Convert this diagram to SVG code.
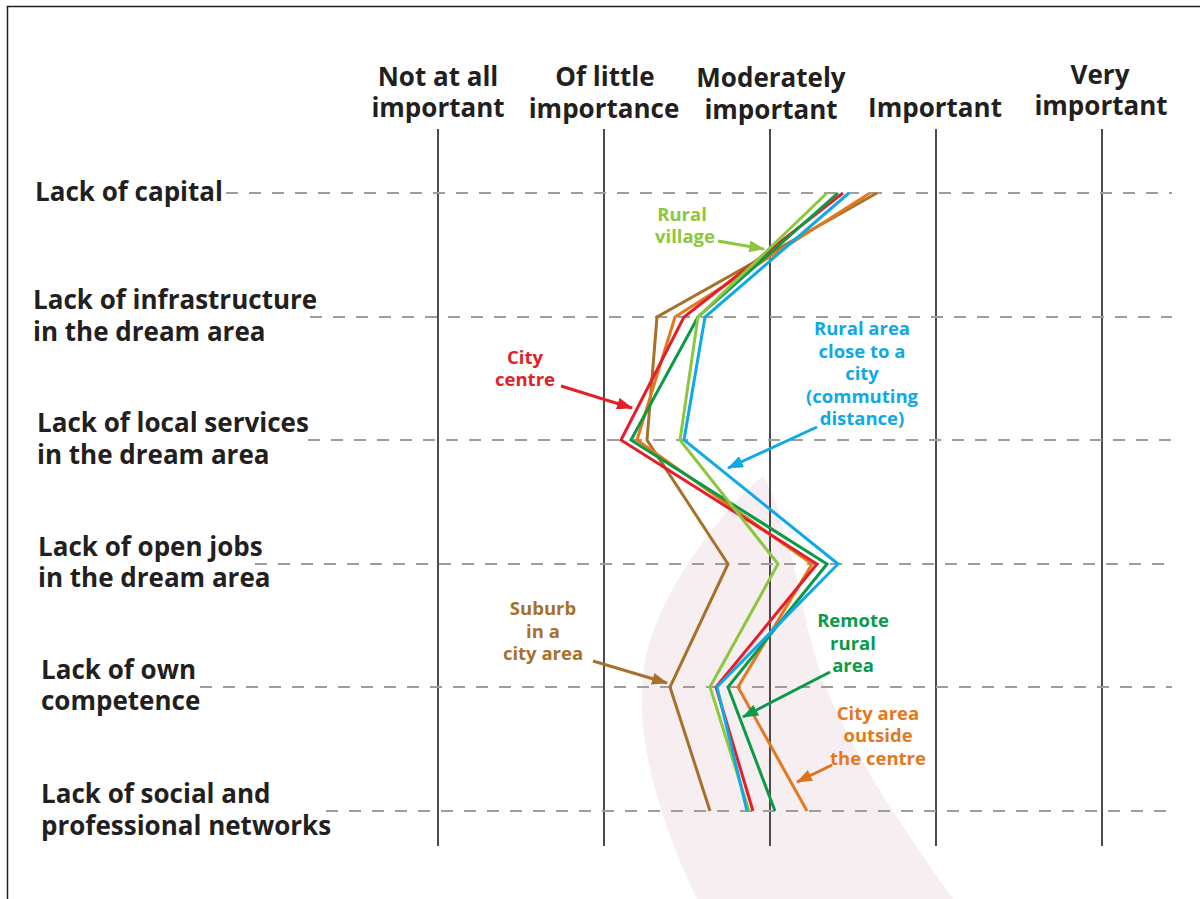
<svg xmlns="http://www.w3.org/2000/svg" width="1200" height="899" viewBox="0 0 1200 899">
<style>
.hdr{font-family:"Open Sans","Noto Sans","Liberation Sans",sans-serif;font-weight:700;font-size:26px;fill:#231F20;text-anchor:middle}
.row{font-family:"Open Sans","Noto Sans","Liberation Sans",sans-serif;font-weight:700;font-size:26px;fill:#231F20}
.ann{font-family:"Open Sans","Noto Sans","Liberation Sans",sans-serif;font-weight:700;font-size:18.5px;text-anchor:middle}
.vl{stroke:#231F20;stroke-width:1.6}
.dl{stroke:#9D9D9D;stroke-width:2;stroke-dasharray:12 11}
.s{fill:none;stroke-width:3;stroke-linejoin:miter}
.arr{fill:none;stroke-width:3}
</style>
<defs>
<marker id="mLg" markerWidth="16" markerHeight="12" refX="15" refY="6" orient="auto" markerUnits="userSpaceOnUse"><path d="M0,0 L16,6 L0,12 Z" fill="#8DC63F"/></marker>
<marker id="mRd" markerWidth="16" markerHeight="12" refX="15" refY="6" orient="auto" markerUnits="userSpaceOnUse"><path d="M0,0 L16,6 L0,12 Z" fill="#E3202A"/></marker>
<marker id="mBl" markerWidth="16" markerHeight="12" refX="15" refY="6" orient="auto" markerUnits="userSpaceOnUse"><path d="M0,0 L16,6 L0,12 Z" fill="#0FA9E6"/></marker>
<marker id="mBr" markerWidth="16" markerHeight="12" refX="15" refY="6" orient="auto" markerUnits="userSpaceOnUse"><path d="M0,0 L16,6 L0,12 Z" fill="#A7712B"/></marker>
<marker id="mDg" markerWidth="16" markerHeight="12" refX="15" refY="6" orient="auto" markerUnits="userSpaceOnUse"><path d="M0,0 L16,6 L0,12 Z" fill="#0A9A48"/></marker>
<marker id="mOr" markerWidth="16" markerHeight="12" refX="15" refY="6" orient="auto" markerUnits="userSpaceOnUse"><path d="M0,0 L16,6 L0,12 Z" fill="#D9731E"/></marker>
</defs>
<rect x="0" y="0" width="1200" height="899" fill="#FFFFFF"/>
<rect x="7.5" y="6.5" width="1210" height="910" fill="none" stroke="#231F20" stroke-width="1.5"/>
<path id="band" d="M763,476 C720,512 660,590 645,660 C634,720 650,800 697,899 L953,899 C890,810 830,720 812,645 C797,585 786,515 763,476 Z" fill="#F7EEF2"/>
<g id="grid">
<line class="vl" x1="438" y1="129" x2="438" y2="846"/>
<line class="vl" x1="604" y1="129" x2="604" y2="846"/>
<line class="vl" x1="770" y1="129" x2="770" y2="846"/>
<line class="vl" x1="936" y1="129" x2="936" y2="846"/>
<line class="vl" x1="1102" y1="129" x2="1102" y2="846"/>
<line class="dl" x1="226" y1="193" x2="1172" y2="193"/>
<line class="dl" x1="310" y1="317" x2="1172" y2="317"/>
<line class="dl" x1="308" y1="440" x2="1172" y2="440"/>
<line class="dl" x1="255" y1="564" x2="1172" y2="564"/>
<line class="dl" x1="200" y1="687" x2="1172" y2="687"/>
<line class="dl" x1="326" y1="811" x2="1172" y2="811"/>
</g>
<g id="header">
<text class="hdr" x="438" y="86">Not at all</text>
<text class="hdr" x="438" y="117">important</text>
<text class="hdr" x="605" y="86">Of little</text>
<text class="hdr" x="604" y="118">importance</text>
<text class="hdr" x="771" y="87">Moderately</text>
<text class="hdr" x="771" y="119">important</text>
<text class="hdr" x="935" y="117">Important</text>
<text class="hdr" x="1100" y="84">Very</text>
<text class="hdr" x="1101" y="115">important</text>
</g>
<g id="rows">
<text class="row" x="35" y="201">Lack of capital</text>
<text class="row" x="33" y="309">Lack of infrastructure</text>
<text class="row" x="33" y="341">in the dream area</text>
<text class="row" x="37" y="432">Lack of local services</text>
<text class="row" x="37" y="464">in the dream area</text>
<text class="row" x="38" y="556">Lack of open jobs</text>
<text class="row" x="38" y="587">in the dream area</text>
<text class="row" x="41" y="679">Lack of own</text>
<text class="row" x="41" y="710">competence</text>
<text class="row" x="41" y="803">Lack of social and</text>
<text class="row" x="41" y="835">professional networks</text>
</g>
<g id="series">
<polyline id="suburb" class="s" stroke="#A7712B" points="877,193 657,317 647,440 728,564 670,687 710,811"/>
<polyline id="cityout" class="s" stroke="#E2791F" points="870,193 675,317 637,440 812,564 738,687 807,811"/>
<polyline id="citycentre" class="s" stroke="#E3202A" points="843,193 684,317 621,440 817,564 716,687 753,811"/>
<polyline id="remote" class="s" stroke="#0A9A48" points="838,193 698,317 631,440 827,564 728,687 775,811"/>
<polyline id="village" class="s" stroke="#8DC63F" points="827,193 698,317 680,440 778,564 710,687 749,811"/>
<polyline id="commute" class="s" stroke="#0FA9E6" points="849,193 705,317 684,440 838,564 717,687 747,811"/>
</g>
<g id="connectors">
<line class="arr" stroke="#8DC63F" x1="718" y1="241" x2="764" y2="249" marker-end="url(#mLg)"/>
<line class="arr" stroke="#E3202A" x1="561" y1="386" x2="632" y2="408" marker-end="url(#mRd)"/>
<line class="arr" stroke="#0FA9E6" x1="817" y1="427" x2="728" y2="468" marker-end="url(#mBl)"/>
<line class="arr" stroke="#A7712B" x1="593" y1="661" x2="667" y2="683" marker-end="url(#mBr)"/>
<line class="arr" stroke="#0A9A48" x1="830" y1="672" x2="743" y2="717" marker-end="url(#mDg)"/>
<line class="arr" stroke="#D9731E" x1="832" y1="765" x2="797" y2="782" marker-end="url(#mOr)"/>
</g>
<g id="label-village" fill="#8DC63F">
<text class="ann" x="682" y="221">Rural</text>
<text class="ann" x="685" y="243">village</text>
</g>
<g id="label-citycentre" fill="#E3202A">
<text class="ann" x="525" y="364">City</text>
<text class="ann" x="525" y="386">centre</text>
</g>
<g id="label-commute" fill="#0FA9E6">
<text class="ann" x="862" y="335">Rural area</text>
<text class="ann" x="862" y="358">close to a</text>
<text class="ann" x="862" y="380">city</text>
<text class="ann" x="862" y="403">(commuting</text>
<text class="ann" x="862" y="425">distance)</text>
</g>
<g id="label-suburb" fill="#A7712B">
<text class="ann" x="543" y="615">Suburb</text>
<text class="ann" x="543" y="638">in a</text>
<text class="ann" x="543" y="660">city area</text>
</g>
<g id="label-remote" fill="#0A9A48">
<text class="ann" x="853" y="627">Remote</text>
<text class="ann" x="853" y="650">rural</text>
<text class="ann" x="853" y="672">area</text>
</g>
<g id="label-cityout" fill="#E2791F">
<text class="ann" x="878" y="720">City area</text>
<text class="ann" x="878" y="742">outside</text>
<text class="ann" x="878" y="765">the centre</text>
</g>
</svg>
